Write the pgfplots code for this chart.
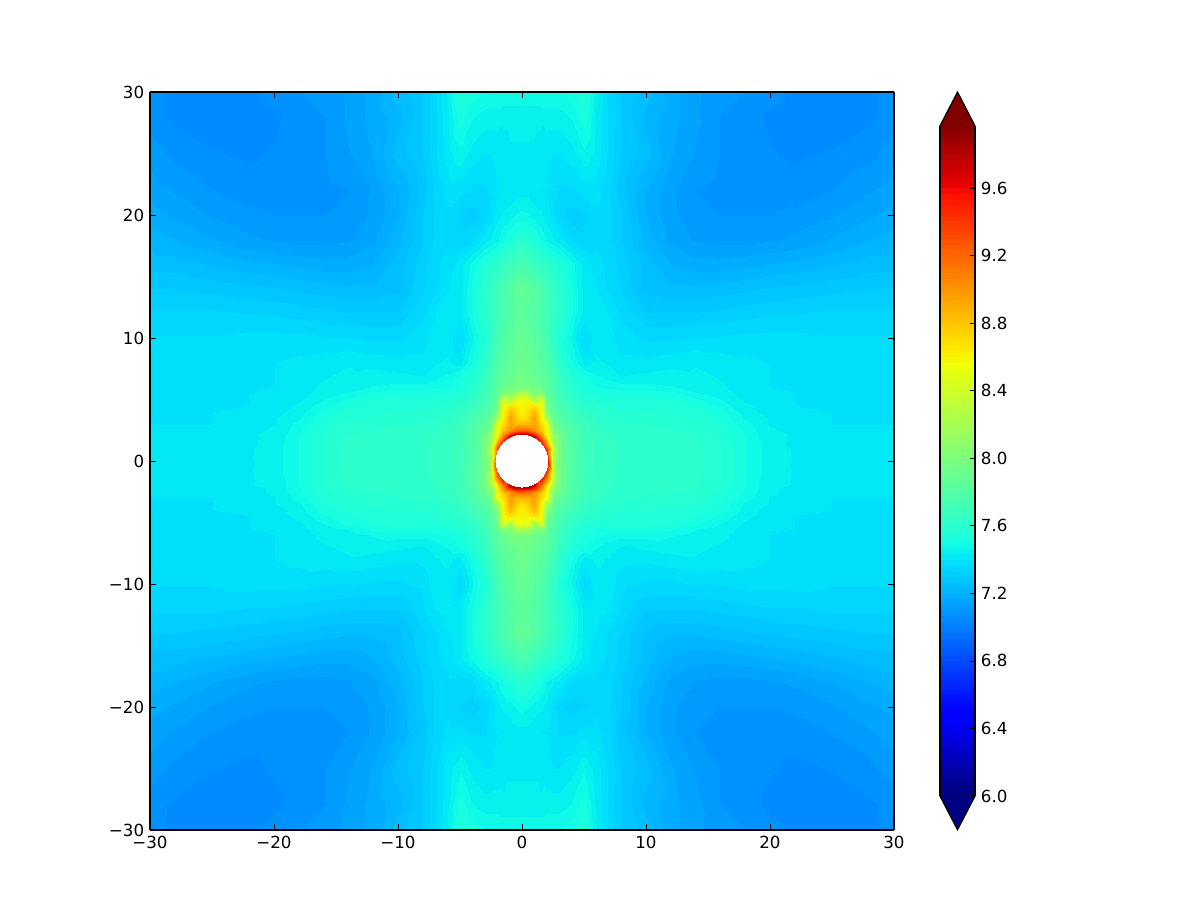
\documentclass[border=0pt]{standalone}
\usepackage{pgfplots}
\usepackage{pgfplotstable}
\usepackage{fontspec}
\setmainfont{DejaVu Sans}
\pgfplotsset{compat=1.18}
\definecolor{jettop}{rgb}{.5,0,0}
\definecolor{jetbottom}{rgb}{0,0,.5}
\pgfplotsset{colormap={mpljet}{rgb(0pt)=(0,0,.5) rgb(11pt)=(0,0,1) rgb(12.5pt)=(0,0,1) rgb(34pt)=(0,.86,1) rgb(35pt)=(0,.9,.968) rgb(37.5pt)=(.081,1,.887) rgb(64pt)=(.935,1,.032) rgb(65pt)=(.968,.963,0) rgb(66pt)=(1,.926,0) rgb(89pt)=(1,.074,0) rgb(91pt)=(.909,0,0) rgb(100pt)=(.5,0,0)},
 colormap={jetlevels}{samples of colormap=(120 of mpljet)}}
\pgfplotstableread[row sep=\\]{
x y v\\
0 0 10\\.5 0 10\\1 0 10\\1.5 0 10\\2 0 9.8\\2.5 0 8.2\\3 0 7.95\\4 0 7.78\\5 0 7.7\\6 0 7.66\\7 0 7.64\\8 0 7.63\\10 0 7.62\\12 0 7.62\\14 0 7.61\\16 0 7.57\\18 0 7.5\\20 0 7.45\\22 0 7.43\\25 0 7.42\\28 0 7.42\\30 0 7.42\\
0 1 10\\.5 1 10\\1 1 10\\1.5 1 10\\2 1 9.3\\2.5 1 8.3\\3 1 7.95\\4 1 7.78\\5 1 7.7\\6 1 7.66\\7 1 7.64\\8 1 7.63\\10 1 7.62\\12 1 7.62\\14 1 7.61\\16 1 7.57\\18 1 7.5\\20 1 7.45\\22 1 7.43\\25 1 7.42\\28 1 7.42\\30 1 7.42\\
0 2 10\\.5 2 10\\1 2 9.7\\1.5 2 9.1\\2 2 8.6\\2.5 2 8.15\\3 2 7.95\\4 2 7.78\\5 2 7.7\\6 2 7.66\\7 2 7.64\\8 2 7.62\\10 2 7.61\\12 2 7.61\\14 2 7.6\\16 2 7.57\\18 2 7.5\\20 2 7.44\\22 2 7.43\\25 2 7.41\\28 2 7.41\\30 2 7.41\\
0 2.5 9.2\\.5 2.5 9.15\\1 2.5 9\\1.5 2.5 8.8\\2 2.5 8.55\\2.5 2.5 8\\3 2.5 7.9\\4 2.5 7.77\\5 2.5 7.69\\6 2.5 7.65\\7 2.5 7.63\\8 2.5 7.61\\10 2.5 7.6\\12 2.5 7.6\\14 2.5 7.59\\16 2.5 7.56\\18 2.5 7.49\\20 2.5 7.44\\22 2.5 7.42\\25 2.5 7.41\\28 2.5 7.41\\30 2.5 7.41\\
0 3 8.85\\.5 3 8.85\\1 3 8.95\\1.5 3 8.7\\2 3 8.5\\2.5 3 7.95\\3 3 7.85\\4 3 7.75\\5 3 7.68\\6 3 7.64\\7 3 7.62\\8 3 7.6\\10 3 7.6\\12 3 7.59\\14 3 7.58\\16 3 7.55\\18 3 7.48\\20 3 7.43\\22 3 7.42\\25 3 7.4\\28 3 7.4\\30 3 7.4\\
0 3.5 8.65\\.5 3.5 8.75\\1 3.5 8.95\\1.5 3.5 8.6\\2 3.5 8.2\\2.5 3.5 7.9\\3 3.5 7.82\\4 3.5 7.72\\5 3.5 7.66\\6 3.5 7.62\\7 3.5 7.6\\8 3.5 7.58\\10 3.5 7.58\\12 3.5 7.58\\14 3.5 7.56\\16 3.5 7.53\\18 3.5 7.46\\20 3.5 7.43\\22 3.5 7.41\\25 3.5 7.4\\28 3.5 7.4\\30 3.5 7.4\\
0 4 8.6\\.5 4 8.7\\1 4 8.85\\1.5 4 8.6\\2 4 8\\2.5 4 7.85\\3 4 7.78\\4 4 7.7\\5 4 7.64\\6 4 7.6\\7 4 7.58\\8 4 7.57\\10 4 7.57\\12 4 7.56\\14 4 7.55\\16 4 7.52\\18 4 7.45\\20 4 7.42\\22 4 7.41\\25 4 7.4\\28 4 7.4\\30 4 7.4\\
0 4.5 8.58\\.5 4.5 8.62\\1 4.5 8.7\\1.5 4.5 8.55\\2 4.5 7.95\\2.5 4.5 7.82\\3 4.5 7.75\\4 4.5 7.67\\5 4.5 7.61\\6 4.5 7.58\\7 4.5 7.57\\8 4.5 7.56\\10 4.5 7.56\\12 4.5 7.55\\14 4.5 7.53\\16 4.5 7.49\\18 4.5 7.44\\20 4.5 7.42\\22 4.5 7.4\\25 4.5 7.39\\28 4.5 7.39\\30 4.5 7.39\\
0 5 8.55\\.5 5 8.55\\1 5 8.2\\1.5 5 8.5\\2 5 7.9\\2.5 5 7.8\\3 5 7.72\\4 5 7.64\\5 5 7.58\\6 5 7.56\\7 5 7.55\\8 5 7.55\\10 5 7.55\\12 5 7.54\\14 5 7.51\\16 5 7.47\\18 5 7.43\\20 5 7.41\\22 5 7.4\\25 5 7.39\\28 5 7.39\\30 5 7.39\\
0 5.5 8.25\\.5 5.5 8.2\\1 5.5 8\\1.5 5.5 8.05\\2 5.5 7.85\\2.5 5.5 7.78\\3 5.5 7.7\\4 5.5 7.6\\5 5.5 7.55\\6 5.5 7.53\\7 5.5 7.52\\8 5.5 7.52\\10 5.5 7.52\\12 5.5 7.51\\14 5.5 7.47\\16 5.5 7.45\\18 5.5 7.42\\20 5.5 7.41\\22 5.5 7.4\\25 5.5 7.39\\28 5.5 7.39\\30 5.5 7.39\\
0 6 7.98\\.5 6 7.97\\1 6 7.95\\1.5 6 7.9\\2 6 7.84\\2.5 6 7.76\\3 6 7.68\\4 6 7.58\\5 6 7.53\\6 6 7.5\\7 6 7.49\\8 6 7.48\\10 6 7.48\\12 6 7.47\\14 6 7.45\\16 6 7.44\\18 6 7.42\\20 6 7.4\\22 6 7.39\\25 6 7.39\\28 6 7.38\\30 6 7.38\\
0 7 7.95\\.5 7 7.93\\1 7 7.9\\1.5 7 7.85\\2 7 7.82\\2.5 7 7.75\\3 7 7.65\\4 7 7.55\\5 7 7.5\\6 7 7.47\\7 7 7.45\\8 7 7.43\\10 7 7.44\\12 7 7.45\\14 7 7.44\\16 7 7.43\\18 7 7.42\\20 7 7.4\\22 7 7.39\\25 7 7.38\\28 7 7.38\\30 7 7.38\\
0 8 7.92\\.5 8 7.9\\1 8 7.87\\1.5 8 7.82\\2 8 7.78\\2.5 8 7.7\\3 8 7.6\\4 8 7.5\\5 8 7.42\\6 8 7.44\\7 8 7.43\\8 8 7.41\\10 8 7.41\\12 8 7.42\\14 8 7.43\\16 8 7.42\\18 8 7.41\\20 8 7.4\\22 8 7.39\\25 8 7.38\\28 8 7.38\\30 8 7.38\\
0 10 7.9\\.5 10 7.87\\1 10 7.83\\1.5 10 7.78\\2 10 7.72\\2.5 10 7.63\\3 10 7.55\\4 10 7.46\\5 10 7.36\\6 10 7.42\\7 10 7.42\\8 10 7.38\\10 10 7.36\\12 10 7.36\\14 10 7.37\\16 10 7.37\\18 10 7.38\\20 10 7.38\\22 10 7.38\\25 10 7.37\\28 10 7.37\\30 10 7.37\\
0 12 7.85\\.5 12 7.83\\1 12 7.8\\1.5 12 7.75\\2 12 7.7\\2.5 12 7.65\\3 12 7.6\\4 12 7.5\\5 12 7.42\\6 12 7.42\\7 12 7.4\\8 12 7.36\\10 12 7.3\\12 12 7.3\\14 12 7.3\\16 12 7.31\\18 12 7.32\\20 12 7.33\\22 12 7.33\\25 12 7.34\\28 12 7.34\\30 12 7.34\\
0 14 7.88\\.5 14 7.85\\1 14 7.82\\1.5 14 7.76\\2 14 7.7\\2.5 14 7.65\\3 14 7.6\\4 14 7.5\\5 14 7.42\\6 14 7.4\\7 14 7.36\\8 14 7.33\\10 14 7.26\\12 14 7.24\\14 14 7.24\\16 14 7.25\\18 14 7.26\\20 14 7.27\\22 14 7.28\\25 14 7.29\\28 14 7.3\\30 14 7.3\\
0 16 7.75\\.5 16 7.72\\1 16 7.68\\1.5 16 7.65\\2 16 7.62\\2.5 16 7.58\\3 16 7.55\\4 16 7.48\\5 16 7.42\\6 16 7.38\\7 16 7.36\\8 16 7.32\\10 16 7.25\\12 16 7.2\\14 16 7.18\\16 16 7.18\\18 16 7.19\\20 16 7.2\\22 16 7.21\\25 16 7.23\\28 16 7.25\\30 16 7.25\\
0 18 7.6\\.5 18 7.58\\1 18 7.54\\1.5 18 7.5\\2 18 7.46\\2.5 18 7.44\\3 18 7.42\\4 18 7.36\\5 18 7.34\\6 18 7.36\\7 18 7.34\\8 18 7.3\\10 18 7.22\\12 18 7.16\\14 18 7.13\\16 18 7.12\\18 18 7.12\\20 18 7.13\\22 18 7.14\\25 18 7.17\\28 18 7.2\\30 18 7.22\\
0 20 7.48\\.5 20 7.47\\1 20 7.45\\1.5 20 7.44\\2 20 7.42\\2.5 20 7.38\\3 20 7.34\\4 20 7.32\\5 20 7.33\\6 20 7.36\\7 20 7.34\\8 20 7.3\\10 20 7.2\\12 20 7.14\\14 20 7.11\\16 20 7.1\\18 20 7.1\\20 20 7.1\\22 20 7.11\\25 20 7.13\\28 20 7.16\\30 20 7.18\\
0 22 7.42\\.5 22 7.42\\1 22 7.41\\1.5 22 7.4\\2 22 7.4\\2.5 22 7.38\\3 22 7.36\\4 22 7.36\\5 22 7.38\\6 22 7.38\\7 22 7.34\\8 22 7.28\\10 22 7.2\\12 22 7.14\\14 22 7.1\\16 22 7.09\\18 22 7.08\\20 22 7.08\\22 22 7.08\\25 22 7.1\\28 22 7.13\\30 22 7.15\\
0 25 7.43\\.5 25 7.43\\1 25 7.43\\1.5 25 7.42\\2 25 7.41\\2.5 25 7.4\\3 25 7.4\\4 25 7.42\\5 25 7.46\\6 25 7.42\\7 25 7.36\\8 25 7.3\\10 25 7.25\\12 25 7.17\\14 25 7.13\\16 25 7.1\\18 25 7.08\\20 25 7.07\\22 25 7.06\\25 25 7.07\\28 25 7.09\\30 25 7.12\\
0 28 7.44\\.5 28 7.44\\1 28 7.44\\1.5 28 7.44\\2 28 7.45\\2.5 28 7.45\\3 28 7.45\\4 28 7.47\\5 28 7.52\\6 28 7.43\\7 28 7.36\\8 28 7.3\\10 28 7.22\\12 28 7.18\\14 28 7.14\\16 28 7.1\\18 28 7.08\\20 28 7.06\\22 28 7.05\\25 28 7.04\\28 28 7.06\\30 28 7.08\\
0 30 7.5\\.5 30 7.5\\1 30 7.5\\1.5 30 7.5\\2 30 7.5\\2.5 30 7.5\\3 30 7.5\\4 30 7.52\\5 30 7.56\\6 30 7.44\\7 30 7.36\\8 30 7.3\\10 30 7.25\\12 30 7.18\\14 30 7.14\\16 30 7.12\\18 30 7.1\\20 30 7.08\\22 30 7.06\\25 30 7.05\\28 30 7.06\\30 30 7.08\\
}\quadrant
\pgfplotstableread[row sep=\\]{
x y v\\
0 6 6\\1 6 6\\
0 9.967 9.967\\1 9.967 9.967\\
}\barvalues
\begin{document}
\begin{tikzpicture}[x=1pt,y=1pt]
\path (0,0) rectangle (720,553.2);
\begin{axis}[
  at={(90pt,55.2pt)},anchor=south west,
  scale only axis,width=446.4pt,height=442.8pt,
  view={0}{90},
  xmin=-30,xmax=30,ymin=-30,ymax=30,zmin=6,zmax=10,
  point meta min=6,point meta max=10,
  colormap name=jetlevels,colormap access=piecewise constant,
  xtick={-30,-20,-10,0,10,20,30},
  ytick={-30,-20,-10,0,10,20,30},
  ztick=\empty,
  xticklabels={−30,−20,−10,0,10,20,30},
  yticklabels={−30,−20,−10,0,10,20,30},
  tick align=inside,
  major tick length=3.3pt,
  tick style={black,line width=.42pt},
  axis line style={line width=.75pt},
  tick label style={font=\fontsize{10}{12}\selectfont},
  axis on top,
]
\addplot3[surf,shader=interp,mesh/cols=22,point meta=z] table[x=x,y=y,z=v]{\quadrant};
\addplot3[surf,shader=interp,mesh/cols=22,point meta=z] table[x expr=-\thisrow{x},y=y,z=v]{\quadrant};
\addplot3[surf,shader=interp,mesh/cols=22,point meta=z] table[x=x,y expr=-\thisrow{y},z=v]{\quadrant};
\addplot3[surf,shader=interp,mesh/cols=22,point meta=z] table[x expr=-\thisrow{x},y expr=-\thisrow{y},z=v]{\quadrant};
\addplot3[white,only marks,mark=*,mark size=15.6pt,mark options={draw=white,fill=white,line width=0pt}] coordinates {(0,0,10)};
\end{axis}
\begin{axis}[
  at={(564pt,75.6pt)},anchor=south west,
  scale only axis,width=21pt,height=402pt,
  view={0}{90},
  xmin=0,xmax=1,ymin=6,ymax=9.967,zmin=6,zmax=10,
  point meta min=6,point meta max=10,
  colormap name=jetlevels,colormap access=piecewise constant,
  xtick=\empty,ztick=\empty,
  ytick={6,6.4,6.8,7.2,7.6,8,8.4,8.8,9.2,9.6},
  yticklabels={6.0,6.4,6.8,7.2,7.6,8.0,8.4,8.8,9.2,9.6},
  ytick pos=right,yticklabel pos=right,
  tick align=inside,
  major tick length=3.3pt,
  tick style={black,line width=.42pt},
  separate axis lines,
  axis line style={line width=.75pt},
  x axis line style={draw=none},
  z axis line style={draw=none},
  tick label style={font=\fontsize{10}{12}\selectfont},
  clip=false,axis on top,
]
\addplot3[surf,shader=interp,mesh/cols=2,point meta=z] table[x=x,y=y,z=v]{\barvalues};
\addplot3[draw=none,fill=jettop] coordinates {(0,9.967,10)(.5,10.168,10)(1,9.967,10)} -- cycle;
\addplot3[draw=none,fill=jetbottom] coordinates {(0,6,6)(.5,5.8,6)(1,6,6)} -- cycle;
\addplot3[draw=black,line width=.75pt] coordinates {(0,9.967,10)(.5,10.168,10)(1,9.967,10)};
\addplot3[draw=black,line width=.75pt] coordinates {(0,6,6)(.5,5.8,6)(1,6,6)};
\end{axis}
\end{tikzpicture}
\end{document}
